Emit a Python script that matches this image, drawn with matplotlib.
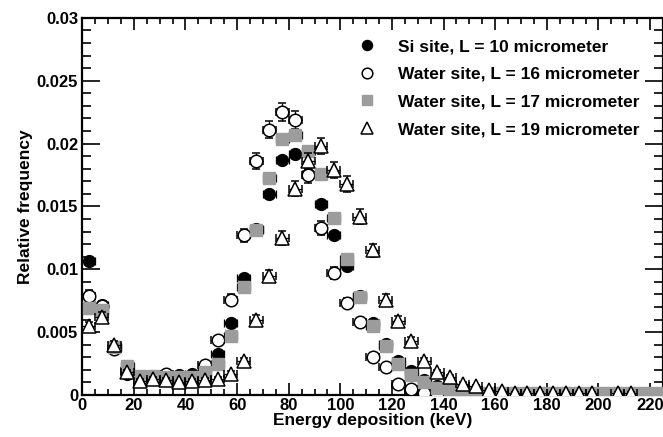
import numpy as np
import matplotlib
matplotlib.use('Agg')
from matplotlib import pyplot as plt
from matplotlib.ticker import MultipleLocator, FuncFormatter

plt.rcParams['font.family'] = ['Liberation Sans', 'DejaVu Sans']
plt.rcParams['font.weight'] = 'bold'
plt.rcParams['axes.labelweight'] = 'bold'

# 5 keV bins from 0 to 225 keV
bin_centers = np.arange(2.5, 225, 5)

si_10 = [0.0107, 0.0072, 0.0038, 0.0017, 0.0013, 0.0013, 0.0014, 0.0016, 0.0017, 0.0022,
         0.0033, 0.0057, 0.0093, 0.0132, 0.0160, 0.0187, 0.0192, 0.0176, 0.0152, 0.0127,
         0.0103, 0.0079, 0.0057, 0.0041, 0.0027, 0.0019, 0.0012, 0.0007, 0.0004, 0.0002,
         0.0001, 0.0001, 0.0001, 0.0, 0.0, 0.0, 0.0, 0.0, 0.0, 0.0,
         0.0, 0.0, 0.0, 0.0, 0.0]

water_16 = [0.0079, 0.0071, 0.0037, 0.0019, 0.0013, 0.0014, 0.0017, 0.0014, 0.0015, 0.0024,
            0.0044, 0.0076, 0.0127, 0.0186, 0.0211, 0.0225, 0.0219, 0.0175, 0.0133, 0.0097,
            0.0073, 0.0058, 0.0030, 0.0022, 0.0009, 0.0005, 0.0002, 0.0001, 0.0, 0.0,
            0.0, 0.0, 0.0, 0.0, 0.0, 0.0, 0.0, 0.0, 0.0, 0.0,
            0.0, 0.0, 0.0, 0.0, 0.0]

water_17 = [0.0069, 0.0068, 0.0038, 0.0023, 0.0015, 0.0015, 0.0014, 0.0014, 0.0014, 0.0018,
            0.0025, 0.0047, 0.0086, 0.0131, 0.0173, 0.0204, 0.0207, 0.0194, 0.0176, 0.0141,
            0.0108, 0.0078, 0.0055, 0.0039, 0.0025, 0.0016, 0.0010, 0.0006, 0.0004, 0.0003,
            0.0002, 0.0002, 0.0002, 0.0002, 0.0002, 0.0002, 0.0002, 0.0002, 0.0002, 0.0002,
            0.0002, 0.0002, 0.0002, 0.0002, 0.0002]

water_19 = [0.0055, 0.0062, 0.0040, 0.0018, 0.0011, 0.0013, 0.0012, 0.0010, 0.0011, 0.0012,
            0.0013, 0.0017, 0.0027, 0.0060, 0.0095, 0.0125, 0.0164, 0.0186, 0.0198, 0.0179,
            0.0168, 0.0142, 0.0115, 0.0076, 0.0059, 0.0043, 0.0027, 0.0018, 0.0014, 0.0009,
            0.0007, 0.0004, 0.0003, 0.0002, 0.0002, 0.0002, 0.0002, 0.0002, 0.0002, 0.0002,
            np.nan, 0.0002, 0.0002, np.nan, np.nan]

labels = ['Si site, L = 10 micrometer',
          'Water site, L = 16 micrometer',
          'Water site, L = 17 micrometer',
          'Water site, L = 19 micrometer']

# rough number of entries per histogram, used for poisson error bars
n_entries = [150000, 45000, 150000, 45000]

fig = plt.figure(figsize=(6.63, 4.37), dpi=100)
ax = fig.add_axes([0.124, 0.096, 0.876, 0.863])

styles = [dict(marker='o', mfc='black', mec='black', ms=8.5),
          dict(marker='o', mfc='white', mec='black', ms=9, mew=1.1),
          dict(marker='s', mfc='#9c9c9c', mec='#9c9c9c', ms=8.5),
          dict(marker='^', mfc='white', mec='black', ms=9.5, mew=1.1)]

handles = []
for i, series in enumerate([si_10, water_16, water_17, water_19]):
    y = np.array(series)
    err = np.sqrt(np.nan_to_num(y) / n_entries[i])
    ax.errorbar(bin_centers, y, xerr=2.5, yerr=err, ls='none',
                ecolor='black', elinewidth=0.9, capsize=3, capthick=0.9,
                zorder=2 + i, **styles[i])
    h, = ax.plot([], [], ls='none', **styles[i])
    handles.append(h)

ax.set_xlim(0, 225)
ax.set_ylim(0, 0.03)
ax.xaxis.set_major_locator(MultipleLocator(20))
ax.xaxis.set_minor_locator(MultipleLocator(5))
ax.yaxis.set_major_locator(MultipleLocator(0.005))
ax.yaxis.set_minor_locator(MultipleLocator(0.001))
ax.yaxis.set_major_formatter(FuncFormatter(lambda v, p: '%g' % round(v, 4)))
ax.xaxis.set_major_formatter(FuncFormatter(lambda v, p: '%d' % v))

ax.tick_params(axis='both', which='both', direction='in', top=True, right=True,
               labelsize=12, width=1.2)
ax.tick_params(axis='x', which='major', length=8.5, pad=2)
ax.tick_params(axis='x', which='minor', length=4.5)
ax.tick_params(axis='y', which='major', length=13, pad=3)
ax.tick_params(axis='y', which='minor', length=6.5)
for s in ax.spines.values():
    s.set_linewidth(1.6)

ax.set_xlabel('Energy deposition (keV)', fontsize=12.5, labelpad=0)
ax.set_ylabel('Relative frequency', fontsize=12.5, labelpad=3)

ax.legend(handles, labels, loc='upper left', bbox_to_anchor=(0.540, 0.911),
          bbox_transform=fig.transFigure, frameon=False, fontsize=12.5,
          numpoints=1, handlelength=1.0, handletextpad=1.3, labelspacing=0.72,
          borderpad=0, borderaxespad=0, markerscale=0.85)

plt.savefig('out.png', dpi=100)
plt.close()
